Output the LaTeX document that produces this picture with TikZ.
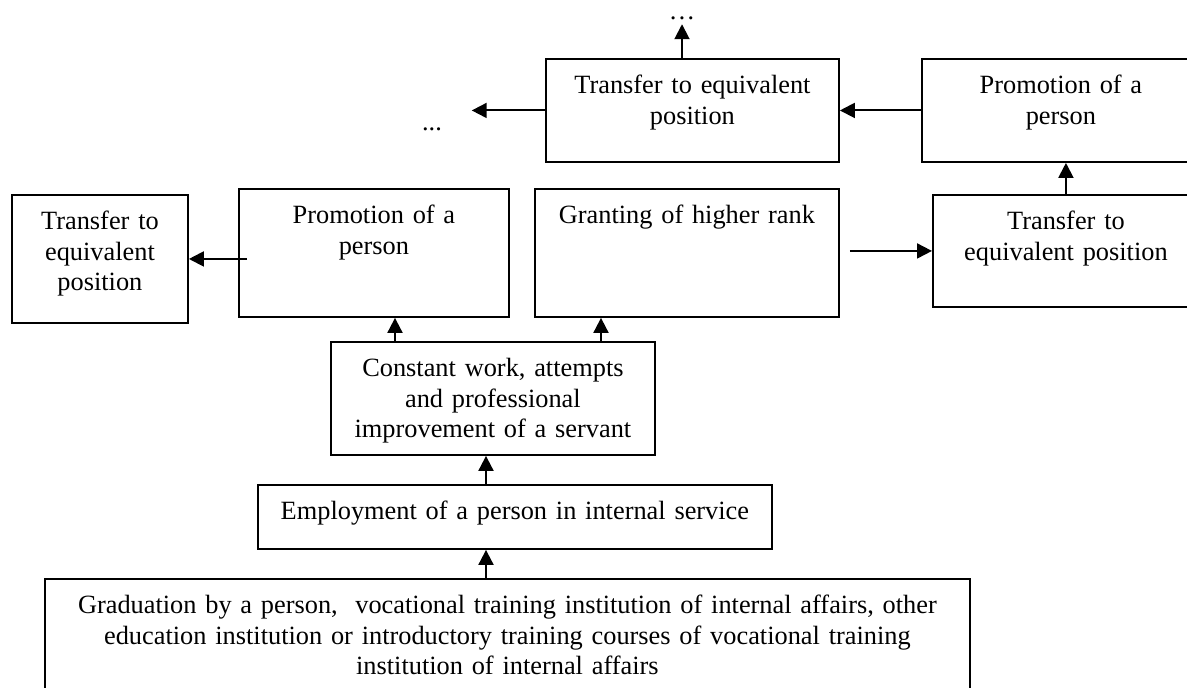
\documentclass[tikz,border=0pt]{standalone}
\usepackage{fontspec}
\setmainfont{Liberation Serif}
\usetikzlibrary{arrows.meta}

\tikzset{
  box/.style={draw, line width=1.1pt, anchor=north west, inner xsep=0.1cm, inner ysep=0pt, text height=0.7cm, align=center},
  arr/.style={line width=1.1pt, -{Triangle[length=0.3cm, width=0.3cm]}},
  etc/.style={anchor=base, inner sep=0.2em}
}

\begin{document}
\begin{tikzpicture}[x=0.02cm, y=-0.02cm, every node/.style={font=\fontsize{15pt}{17.3pt}\selectfont}]
\useasboundingbox (0,0) rectangle (1187,688);

% upper row
\node[box, text width=5.66cm, text depth=1.36cm] (transfertop) at (545,58) {Transfer to equivalent\\position};
\node[box, text width=5.36cm, text depth=1.36cm] (promotop) at (921,58) {Promotion of a\\person};
\node[etc] (dotstop) at (682,20) {…};
\node[etc] (dotsleft) at (432,131) {...};

% middle row
\node[box, text width=3.32cm, text depth=1.86cm] (transferleft) at (11,194) {Transfer to\\equivalent\\position};
\node[box, text width=5.20cm, text depth=1.86cm] (promomid) at (238,188) {Promotion of a\\person};
\node[box, text width=5.88cm, text depth=1.86cm] (granting) at (534,188) {Granting of higher rank};
\node[box, text width=5.12cm, text depth=1.54cm] (transferright) at (932,194) {Transfer to\\equivalent position};

% lower part
\node[box, text width=6.28cm, text depth=1.56cm] (constant) at (330,341) {Constant work, attempts\\and professional\\improvement of a servant};
\node[box, text width=10.08cm, text depth=0.58cm] (employment) at (257,484) {Employment of a person in internal service};
\node[box, text width=18.30cm, text depth=1.80cm] (graduation) at (44,578) {Graduation by a person,~ vocational training institution of internal affairs, other\\education institution or introductory training courses of vocational training\\institution of internal affairs};

\coordinate (colleft) at (395,0);
\coordinate (colright) at (601,0);
\coordinate (spine) at (486,0);

% arrows
\draw[arr] (dotstop |- transfertop.north) -- (dotstop.south);
\draw[arr, shorten >=0.52cm] (transfertop.west) -- (transfertop.west -| dotsleft.east);
\draw[arr] (promotop.west) -- (transfertop.east);
\draw[arr] (transferright.north) -- (transferright.north |- promotop.south);
\draw[arr, shorten <=0.2cm] (granting.east |- transferright.west) -- (transferright.west);
\draw[arr, shorten <=-0.18cm] (promomid.west |- transferleft.east) -- (transferleft.east);
\draw[arr] (colleft |- constant.north) -- (colleft |- promomid.south);
\draw[arr] (colright |- constant.north) -- (colright |- granting.south);
\draw[arr] (spine |- employment.north) -- (spine |- constant.south);
\draw[arr] (spine |- graduation.north) -- (spine |- employment.south);
\end{tikzpicture}
\end{document}
